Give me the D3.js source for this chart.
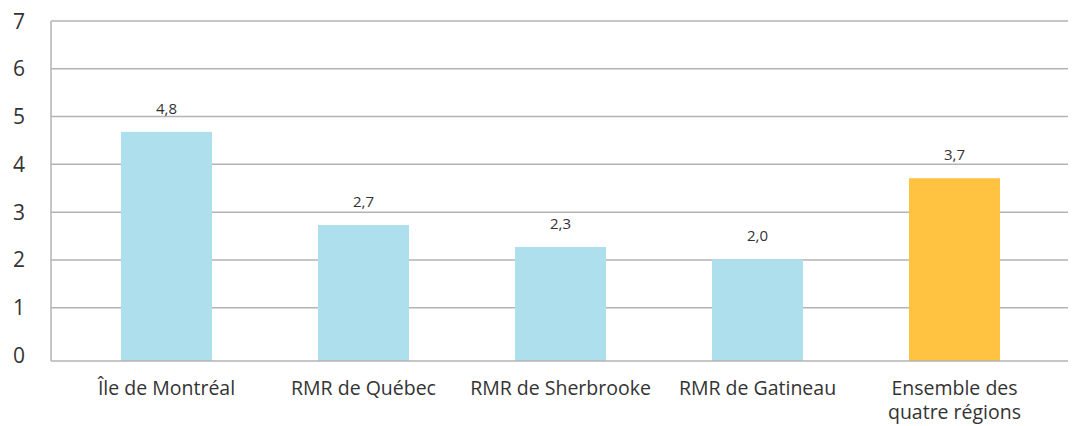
<!DOCTYPE html>
<html>
<head>
<meta charset="utf-8">
<script src="https://cdn.jsdelivr.net/npm/d3@7"></script>
<style>
  body { margin: 0; background: #fff; }
  text { font-family: "Open Sans", Lato, sans-serif; fill: #333; }
</style>
</head>
<body>
<div id="chart"></div>
<script>
(function() {
    var width = 1075;
    var height = 426;

    // data
    var categories = ["Île de Montréal", "RMR de Québec", "RMR de Sherbrooke", "RMR de Gatineau", "Ensemble des|quatre régions"];
    var values = [4.68, 2.73, 2.27, 2.01, 3.71];
    var valueLabels = ["4,8", "2,7", "2,3", "2,0", "3,7"];
    var barColors = ["#addfed", "#addfed", "#addfed", "#addfed", "#ffc341"];
    var yTicks = [0, 1, 2, 3, 4, 5, 6, 7];

    var svg = d3.select("#chart")
        .append("svg")
        .attr("width", width)
        .attr("height", height);

    var x0 = 51, x1 = 1068;
    var axisY = 361;

    var x = d3.scaleBand()
        .domain(categories)
        .range([68, 1053]);

    var y = d3.scaleLinear()
        .domain([0, 7])
        .range([355.5, 21]);

    var barW = x.bandwidth() * 0.462;

    // gridlines
    svg.append("g")
        .selectAll("line")
        .data(yTicks.slice(1))
        .enter()
        .append("line")
        .attr("x1", x0)
        .attr("x2", x1)
        .attr("y1", function(d) { return y(d); })
        .attr("y2", function(d) { return y(d); })
        .attr("stroke", "#b3b3b3")
        .attr("stroke-width", 1.5);

    // bars
    svg.append("g")
        .selectAll("rect")
        .data(values)
        .enter()
        .append("rect")
        .attr("x", function(d, i) { return x(categories[i]) + (x.bandwidth() - barW) / 2; })
        .attr("y", function(d) { return y(d); })
        .attr("width", barW)
        .attr("height", function(d) { return axisY - y(d); })
        .attr("fill", function(d, i) { return barColors[i]; });

    // axis lines
    svg.append("line")
        .attr("x1", x0).attr("x2", x1)
        .attr("y1", axisY).attr("y2", axisY)
        .attr("stroke", "#b3b3b3").attr("stroke-width", 1.5);
    svg.append("line")
        .attr("x1", x0).attr("x2", x0)
        .attr("y1", y(7)).attr("y2", axisY)
        .attr("stroke", "#b3b3b3").attr("stroke-width", 1.5);

    // y tick labels
    svg.append("g")
        .selectAll("text")
        .data(yTicks)
        .enter()
        .append("text")
        .attr("x", 25)
        .attr("y", function(d) { return y(d); })
        .attr("dy", "0.36em")
        .attr("text-anchor", "end")
        .style("font-size", "21px")
        .text(function(d) { return d; });

    // value labels
    svg.append("g")
        .selectAll("text")
        .data(values)
        .enter()
        .append("text")
        .attr("x", function(d, i) { return x(categories[i]) + x.bandwidth() / 2; })
        .attr("y", function(d) { return y(d) - 18; })
        .attr("text-anchor", "middle")
        .style("font-size", "15px")
        .text(function(d, i) { return valueLabels[i]; });

    // category labels
    var cat = svg.append("g")
        .selectAll("text")
        .data(categories)
        .enter()
        .append("text")
        .attr("x", function(d) { return x(d) + x.bandwidth() / 2; })
        .attr("y", 395)
        .attr("text-anchor", "middle")
        .style("font-size", "19.5px");

    cat.selectAll("tspan")
        .data(function(d) { return d.split("|"); })
        .enter()
        .append("tspan")
        .attr("x", function() { return d3.select(this.parentNode).attr("x"); })
        .attr("dy", function(d, i) { return i === 0 ? 0 : 24; })
        .text(function(d) { return d; });
})();
</script>
</body>
</html>
